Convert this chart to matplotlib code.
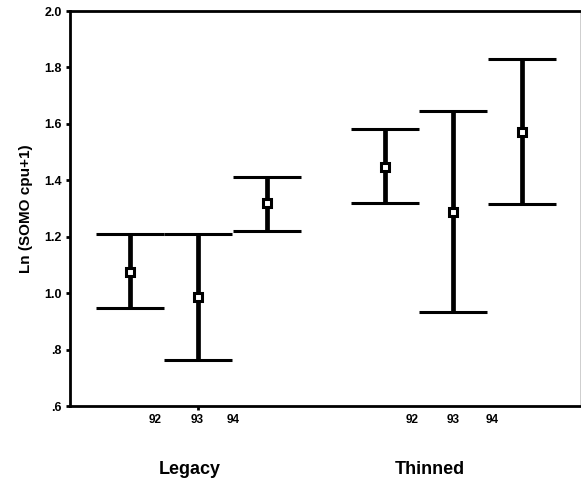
import matplotlib
matplotlib.use("Agg")
import matplotlib.pyplot as plt

plt.rcParams['font.family'] = ['Liberation Sans', 'DejaVu Sans']

# Data
groups = ["Legacy", "Thinned"]
years = ["92", "93", "94"]
legacy_mean = [1.075, 0.987, 1.32]
legacy_low = [0.947, 0.763, 1.22]
legacy_high = [1.21, 1.21, 1.412]
thinned_mean = [1.448, 1.288, 1.572]
thinned_low = [1.32, 0.933, 1.316]
thinned_high = [1.582, 1.646, 1.83]
ytick_vals = [0.6, 0.8, 1.0, 1.2, 1.4, 1.6, 1.8, 2.0]
ytick_labels = [".6", ".8", "1.0", "1.2", "1.4", "1.6", "1.8", "2.0"]

# positions (layout)
bar_x = [[1.0, 2.0, 3.015], [4.75, 5.75, 6.765]]
label_x = [[1.368, 1.986, 2.515], [5.147, 5.75, 6.32]]
group_x = [1.88, 5.41]

fig = plt.figure(figsize=(5.81, 4.83), dpi=100)
ax = fig.add_axes([0.1205, 0.1594, 0.8778, 0.8178])

for gi, (m, lo, hi) in enumerate([(legacy_mean, legacy_low, legacy_high),
                                  (thinned_mean, thinned_low, thinned_high)]):
    yerr = [[mm - l for mm, l in zip(m, lo)], [h - mm for mm, h in zip(m, hi)]]
    ax.errorbar(bar_x[gi], m, yerr=yerr, fmt='s', color='black',
                ecolor='black', elinewidth=3.4, capsize=24.5, capthick=3.6,
                markersize=5.5, markerfacecolor='white', markeredgecolor='black',
                markeredgewidth=2.2, zorder=3)

ax.set_ylim(0.6, 2.0)
ax.set_xlim(0.118, 7.62)
ax.set_yticks(ytick_vals)
ax.set_yticklabels(ytick_labels, fontsize=9, fontweight='bold')
ax.tick_params(axis='y', length=3, width=2, direction='out', pad=3)

all_lx = label_x[0] + label_x[1]
ax.set_xticks(all_lx)
ax.set_xticklabels(years + years, fontsize=8.5, fontweight='bold')
ax.tick_params(axis='x', length=0, pad=6)
ax.set_xticks([bar_x[0][1], bar_x[1][1]], minor=True)
ax.tick_params(axis='x', which='minor', length=3, width=2, direction='out')

for s in ['left', 'bottom']:
    ax.spines[s].set_linewidth(2)
ax.spines['top'].set_linewidth(2)
ax.spines['right'].set_linewidth(0.5)
ax.spines['right'].set_color('#bbbbbb')

for gx, g in zip(group_x, groups):
    ax.text(gx, -0.16, g, transform=ax.get_xaxis_transform(), ha='center',
            va='center', fontsize=13, fontweight='bold')

ax.set_ylabel("Ln (SOMO cpu+1)", fontsize=11, fontweight='bold', labelpad=8)

fig.savefig("out.png", dpi=100)
